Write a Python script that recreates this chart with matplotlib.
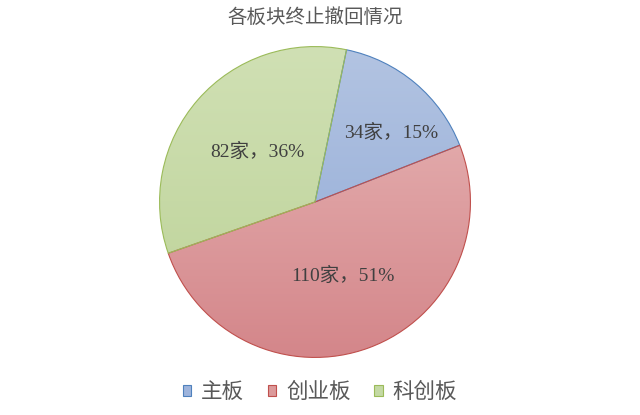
import numpy as np
import matplotlib
matplotlib.use("Agg")
import matplotlib.pyplot as plt
from matplotlib.colors import LinearSegmentedColormap
from matplotlib.patches import Patch

plt.rcParams['font.family'] = ['Noto Sans CJK SC', 'DejaVu Sans']

# 数据
title = "各板块终止撤回情况"
boards = ["主板", "创业板", "科创板"]
counts = [34, 110, 82]
pct_labels = ["15%", "51%", "36%"]
# 扇区占比 (按图中角度读取)
shares = [15.8, 50.6, 33.6]

# 颜色: 上浅下深的渐变
top_colors = ["#b3c4e2", "#e8b8b8", "#d0e0b4"]
bottom_colors = ["#8ea8d5", "#d4868a", "#bcd297"]
edge_colors = ["#4f81bd", "#c0504d", "#9bbb59"]
legend_colors = ["#9eb4dc", "#dc9a9b", "#c4d9a4"]

# 标签位置 (半径比例, 角度偏移)
label_r = [0.66, 0.51, 0.49]
label_shift = [-7.7, 0, 0]

fig = plt.figure(figsize=(6.4, 4.15), dpi=100)
ax = fig.add_axes([158 / 640, 1 - 359 / 415, 314 / 640, 314 / 415])

wedges, _ = ax.pie(shares, startangle=78.3, counterclock=False,
                   radius=1, center=(0, 0),
                   wedgeprops=dict(linewidth=0.8))
ax.set_xlim(-1.01, 1.01)
ax.set_ylim(-1.01, 1.01)
ax.axis("off")

grad = np.linspace(0, 1, 256).reshape(-1, 1)
for w, tc, bc, ec in zip(wedges, top_colors, bottom_colors, edge_colors):
    w.set_facecolor("none")
    w.set_edgecolor(ec)
    cmap = LinearSegmentedColormap.from_list("g", [tc, bc])
    im = ax.imshow(grad, cmap=cmap, extent=[-1, 1, -1, 1], origin="upper",
                   aspect="auto", zorder=0.5)
    im.set_clip_path(w)
    w.set_zorder(1)

for w, n, p, r, s in zip(wedges, counts, pct_labels, label_r, label_shift):
    ang = np.deg2rad((w.theta1 + w.theta2) / 2 + s)
    ax.text(r * np.cos(ang), r * np.sin(ang), f"{n}家，{p}",
            ha="center", va="center", fontsize=14, color="#404040",
            family=["Liberation Serif", "Noto Sans CJK SC"], zorder=3)

fig.text(0.492, 1 - 17 / 415, title, ha="center", va="center",
         fontsize=14, color="#595959")

handles = [Patch(facecolor=c, edgecolor=e, linewidth=0.8)
           for c, e in zip(legend_colors, edge_colors)]
fig.legend(handles, boards, loc="center", bbox_to_anchor=(0.5, 1 - 392 / 415),
           ncol=3, frameon=False, fontsize=15.5, labelcolor="#595959",
           handlelength=0.4, handleheight=0.4, handletextpad=0.45,
           columnspacing=1.1)

fig.savefig("out.png", dpi=100)
